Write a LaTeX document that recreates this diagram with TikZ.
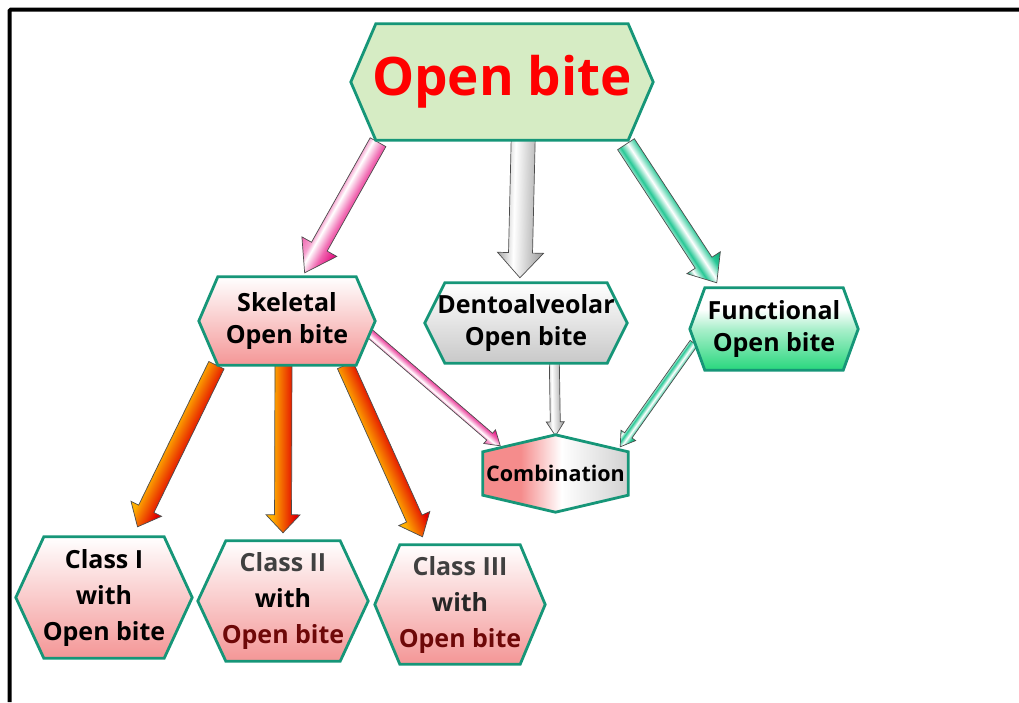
\documentclass[tikz,border=0pt]{standalone}
\usepackage{fontspec}
\setmainfont{Open Sans}
\usetikzlibrary{calc}
\pgfdeclarelayer{bg}
\pgfdeclarelayer{mid}
\pgfsetlayers{bg,mid,main}
\definecolor{tealb}{RGB}{22,150,120}
\definecolor{titlefill}{RGB}{214,236,196}
\definecolor{pinkfill}{RGB}{244,150,150}
\definecolor{grayfill}{RGB}{200,200,200}
\definecolor{greenfill}{RGB}{40,215,125}
\definecolor{maroonA}{RGB}{110,8,8}
\definecolor{orangeA}{RGB}{255,175,0}
\definecolor{redA}{RGB}{225,0,0}
\definecolor{pinkA}{RGB}{240,100,175}
\definecolor{pinkB}{RGB}{225,0,120}
\definecolor{greenA}{RGB}{16,160,112}
\definecolor{greenB}{RGB}{40,200,150}
\definecolor{pinkC}{RGB}{245,140,140}
\pgfdeclareverticalshading{pinksh}{100bp}{color(0bp)=(pinkA); color(25bp)=(pinkA); color(38bp)=(white!40!pinkA); color(44bp)=(white); color(58bp)=(pinkA); color(75bp)=(pinkB); color(100bp)=(pinkB)}
\pgfdeclareverticalshading{graysh}{100bp}{color(0bp)=(black!35); color(25bp)=(black!35); color(42bp)=(white); color(75bp)=(black!40); color(100bp)=(black!40)}
\pgfdeclareverticalshading{greensh}{100bp}{color(0bp)=(greenA); color(25bp)=(greenA); color(33bp)=(white); color(42bp)=(greenB); color(52bp)=(white); color(63bp)=(greenB); color(75bp)=(greenA); color(100bp)=(greenA)}
\pgfdeclareverticalshading{orangesh}{100bp}{color(0bp)=(orangeA); color(25bp)=(orangeA); color(34bp)=(orangeA); color(68bp)=(redA); color(75bp)=(redA); color(100bp)=(redA)}
\pgfdeclarehorizontalshading{combsh}{100bp}{color(0bp)=(pinkC); color(25bp)=(pinkC); color(38bp)=(pinkC); color(52bp)=(white); color(75bp)=(black!18); color(100bp)=(black!18)}
\pgfdeclareverticalshading{whitegreen}{100bp}{color(0bp)=(greenfill); color(25bp)=(greenfill); color(50bp)=(white!60!greenfill); color(62bp)=(white); color(100bp)=(white)}
\newcommand{\bodyfont}{\fontsize{25}{32}\selectfont\bfseries}
\newcommand{\blockarrow}[6]{%
  \path #2; \pgfgetlastxy{\bax}{\bay}%
  \path #3; \pgfgetlastxy{\bbx}{\bby}%
  \pgfmathsetmacro{\bang}{atan2(\bby-\bay,\bbx-\bax)}%
  \pgfmathsetmacro{\blen}{veclen(\bbx-\bax,\bby-\bay)}%
  \pgfmathsetmacro{\bsw}{#4/2}%
  \pgfmathsetmacro{\bhw}{#5/2}%
  \pgfmathsetmacro{\bhb}{\blen-#6}%
  \begin{pgfonlayer}{bg}%
  \begin{scope}[transform canvas={shift={(\bax,\bay)},rotate=\bang}]%
  \path[arrowline,#1] (0pt,-\bsw pt) -- (\bhb pt,-\bsw pt) -- (\bhb pt,-\bhw pt) -- (\blen pt,0pt) -- (\bhb pt,\bhw pt) -- (\bhb pt,\bsw pt) -- (0pt,\bsw pt) -- cycle;%
  \end{scope}%
  \end{pgfonlayer}}
\newcommand{\hexpath}[3]{%
  \begin{pgfonlayer}{mid}%
  \path[hexb,#3] (#1.west) -- ($(#1.north west)+(#2,0)$) -- ($(#1.north east)+(-#2,0)$) -- (#1.east) -- ($(#1.south east)+(-#2,0)$) -- ($(#1.south west)+(#2,0)$) -- cycle;%
  \end{pgfonlayer}}
\newcommand{\vhexpath}[3]{%
  \begin{pgfonlayer}{mid}%
  \path[hexb,#3] (#1.north) -- ($(#1.north east)+(0,#2)$) -- ($(#1.south east)+(0,-#2)$) -- (#1.south) -- ($(#1.south west)+(0,-#2)$) -- ($(#1.north west)+(0,#2)$) -- cycle;%
  \end{pgfonlayer}}
\begin{document}
\begin{tikzpicture}[x=1pt,y=-1pt,
  hexb/.style={draw=tealb, line width=2.8pt},
  box/.style={inner sep=0pt, align=center, font=\bodyfont, text=black},
  arrowline/.style={draw=black!70, line width=0.7pt, line join=miter}]
\useasboundingbox (0,0) rectangle (1019,702);
\begin{pgfonlayer}{bg}
\fill[white] (0,0) rectangle (1019,702);
\end{pgfonlayer}
% frame
\draw[line width=4pt, rounded corners=1.5pt] (9.5,702) -- (9.5,9.5) -- (1019,9.5);
% nodes
\node[box, minimum width=302, minimum height=116, font=\fontsize{53}{60}\selectfont\bfseries, text=red] (title) at (502,82) {Open bite};
\hexpath{title}{25}{fill=titlefill}
\node[box, minimum width=176, minimum height=88] (skel) at (287,321) {Skeletal\\Open bite};
\hexpath{skel}{19}{top color=white, bottom color=pinkfill}
\node[box, minimum width=202, minimum height=80] (dent) at (526,323) {Dentoalveolar\\Open bite};
\hexpath{dent}{20}{top color=white, bottom color=grayfill}
\node[box, minimum width=168, minimum height=82] (func) at (774,329) {Functional\\Open bite};
\hexpath{func}{15}{shading=whitegreen}
\node[box, minimum width=145, minimum height=77, font=\fontsize{21.5}{26}\selectfont\bfseries] (comb) at (555.5,473.5) {Combination};
\vhexpath{comb}{17}{shading=combsh}
\node[box, minimum width=176, minimum height=121, font=\fontsize{25}{36}\selectfont\bfseries] (c1) at (104,597.5) {Class I\\with\\Open bite};
\hexpath{c1}{28}{top color=white, bottom color=pinkfill}
\node[box, minimum width=170, minimum height=120, font=\fontsize{25}{36}\selectfont\bfseries] (c2) at (283,601) {\textcolor{black!75}{Class II}\\with\\\textcolor{maroonA}{Open bite}};
\hexpath{c2}{28}{top color=white, bottom color=pinkfill}
\node[box, minimum width=170, minimum height=119, font=\fontsize{25}{36}\selectfont\bfseries] (c3) at (460,604.5) {\textcolor{black!75}{Class III}\\\textcolor{black!85}{with}\\\textcolor{maroonA}{Open bite}};
\hexpath{c3}{25}{top color=white, bottom color=pinkfill}
% big arrows
\blockarrow{shading=pinksh}{($(title.south west)!0.09!(title.south east)+(0,2)$)}{($(skel.north west)!0.6!(skel.north east)+(0,-4)$)}{18}{40}{30}
\blockarrow{shading=graysh}{($(title.south west)!0.57!(title.south east)$)}{($(dent.north west)!0.47!(dent.north east)+(0,-5)$)}{24}{46}{25}
\blockarrow{shading=greensh}{($(title.south west)!0.91!(title.south east)+(0,4)$)}{($(func.north west)!0.16!(func.north east)+(0,-5)$)}{20}{40}{24}
% orange arrows
\blockarrow{shading=orangesh}{($(skel.south west)!0.10!(skel.south east)$)}{($(c1.north west)!0.69!(c1.north east)+(0,-10)$)}{17}{34}{20}
\blockarrow{shading=orangesh}{($(skel.south west)!0.48!(skel.south east)$)}{($(c2.north west)!0.5!(c2.north east)+(0,-8)$)}{17}{34}{18}
\blockarrow{shading=orangesh}{($(skel.south west)!0.83!(skel.south east)$)}{($(c3.north west)!0.28!(c3.north east)+(0,-8)$)}{17}{34}{20}
% thin arrows to combination
\blockarrow{shading=pinksh}{($(skel.east)+(-6,12)$)}{($(comb.north west)!0.12!(comb.north east)+(0,11)$)}{9}{18}{14}
\blockarrow{shading=graysh}{($(dent.south west)!0.64!(dent.south east)$)}{($(comb.north)+(0,1)$)}{10}{18}{14}
\blockarrow{shading=greensh}{($(func.west)+(4,14)$)}{($(comb.north east)+(-8,12)$)}{9}{18}{14}
\end{tikzpicture}
\end{document}
